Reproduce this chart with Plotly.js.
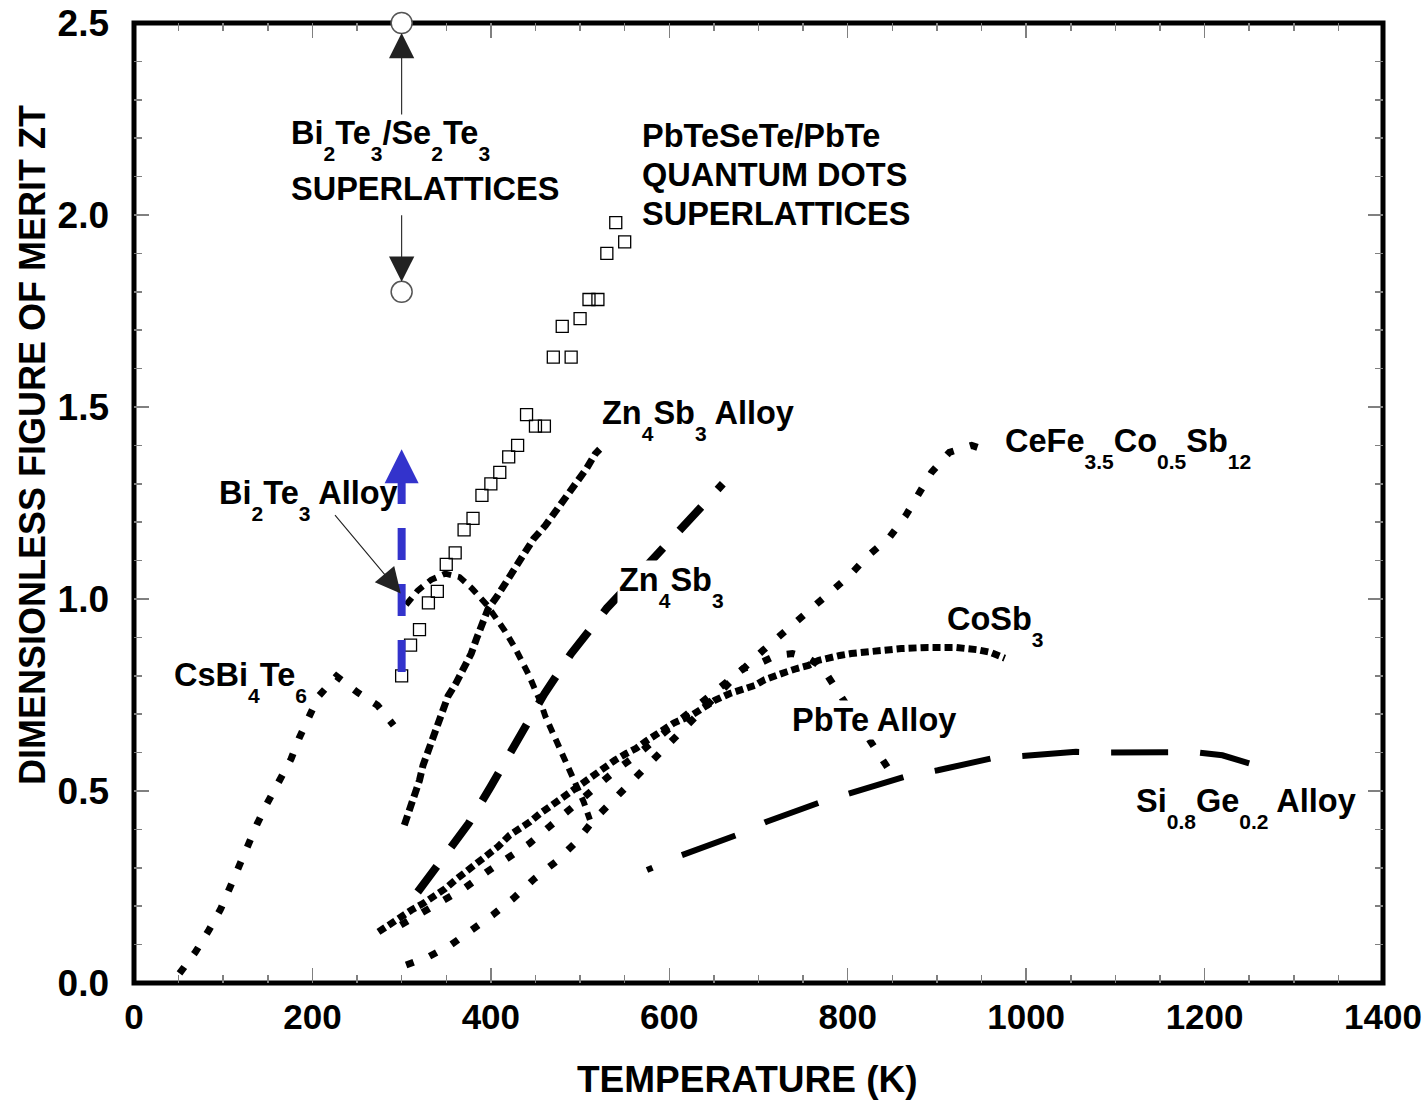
<!DOCTYPE html>
<html>
<head>
<meta charset="utf-8">
<script src="https://cdn.plot.ly/plotly-3.0.1.min.js"></script>
<style>
  html, body { margin: 0; padding: 0; background: #ffffff; }
  #chart { width: 1425px; height: 1100px; }
</style>
</head>
<body>
<div id="chart"></div>
<script>
// ---- Figure of merit ZT versus temperature (K) ----

const csBi4Te6T  = [51, 69, 84, 97, 107, 117, 127, 138, 149, 162, 176, 185, 195, 207, 227, 251, 273, 291];
const csBi4Te6ZT = [0.025, 0.081, 0.138, 0.192, 0.246, 0.304, 0.361, 0.414, 0.467, 0.525, 0.583, 0.637, 0.690, 0.747, 0.799, 0.756, 0.723, 0.671];

const bi2te3AlloyT  = [305, 318, 333, 349, 365, 379, 395, 406, 416, 427, 435, 442, 449, 455, 461, 469, 477, 483, 491, 497, 504, 511];
const bi2te3AlloyZT = [0.985, 1.022, 1.050, 1.066, 1.057, 1.027, 0.986, 0.950, 0.916, 0.873, 0.839, 0.805, 0.767, 0.736, 0.695, 0.654, 0.615, 0.580, 0.541, 0.511, 0.472, 0.425];

const zn4sb3AlloyT  = [303, 309, 314, 320, 324, 329, 334, 340, 345, 352, 361, 369, 378, 384, 390, 397, 407, 417, 429, 439, 448, 461, 472, 483, 496, 507, 517, 522];
const zn4sb3AlloyZT = [0.411, 0.450, 0.485, 0.528, 0.567, 0.599, 0.637, 0.674, 0.706, 0.747, 0.781, 0.816, 0.858, 0.897, 0.931, 0.975, 1.007, 1.044, 1.083, 1.118, 1.157, 1.191, 1.226, 1.261, 1.300, 1.339, 1.378, 1.390];

const zn4sb3T  = [318, 345, 375, 400, 430, 460, 490, 530, 560, 590, 620, 660];
const zn4sb3ZT = [0.237, 0.318, 0.415, 0.512, 0.635, 0.753, 0.858, 0.976, 1.050, 1.125, 1.193, 1.300];

const qdSuperlatticeT  = [300, 310, 320, 330, 340, 350, 360, 370, 380, 390, 400, 410, 420, 430, 440, 450, 460, 470, 480, 490, 500, 510, 520, 530, 540, 550];
const qdSuperlatticeZT = [0.80, 0.88, 0.92, 0.99, 1.02, 1.09, 1.12, 1.18, 1.21, 1.27, 1.30, 1.33, 1.37, 1.40, 1.48, 1.45, 1.45, 1.63, 1.71, 1.63, 1.73, 1.78, 1.78, 1.90, 1.98, 1.93];

const bi2te3SuperlatticeT  = [300, 300];
const bi2te3SuperlatticeZT = [2.5, 1.8];

const ceFeCoSbT  = [305, 330, 355, 377, 402, 425, 449, 474, 496, 515, 537, 562, 583, 603, 630, 655, 680, 705, 730, 752, 776, 802, 823, 847, 865, 880, 894, 914, 939, 963];
const ceFeCoSbZT = [0.047, 0.068, 0.099, 0.133, 0.177, 0.220, 0.272, 0.318, 0.368, 0.424, 0.476, 0.537, 0.589, 0.636, 0.697, 0.755, 0.812, 0.866, 0.916, 0.962, 1.011, 1.061, 1.113, 1.161, 1.217, 1.274, 1.330, 1.382, 1.400, 1.381];

const coSb3T  = [274, 299, 311, 324, 337, 349, 360, 371, 382, 395, 408, 421, 433, 444, 455, 468, 479, 491, 502, 515, 527, 539, 552, 563, 574, 586, 605, 625, 638, 651, 668, 683, 696, 707, 718, 731, 743, 756, 767, 778, 791, 804, 830, 860, 890, 920, 945, 960, 976];
const coSb3ZT = [0.133, 0.174, 0.190, 0.207, 0.226, 0.246, 0.268, 0.287, 0.307, 0.333, 0.355, 0.385, 0.402, 0.420, 0.441, 0.463, 0.483, 0.502, 0.521, 0.541, 0.563, 0.580, 0.598, 0.611, 0.630, 0.650, 0.677, 0.697, 0.715, 0.736, 0.754, 0.767, 0.775, 0.790, 0.801, 0.810, 0.819, 0.827, 0.840, 0.847, 0.853, 0.858, 0.866, 0.871, 0.874, 0.874, 0.868, 0.861, 0.846];

const pbTeAlloyT  = [299, 324, 346, 371, 396, 418, 443, 466, 492, 515, 539, 563, 586, 610, 634, 657, 683, 696, 720, 738, 754, 771, 790, 810, 830, 845, 855];
const pbTeAlloyZT = [0.151, 0.185, 0.219, 0.248, 0.290, 0.324, 0.363, 0.408, 0.459, 0.507, 0.552, 0.593, 0.637, 0.684, 0.728, 0.775, 0.819, 0.827, 0.853, 0.858, 0.848, 0.823, 0.755, 0.680, 0.606, 0.560, 0.528];

const siGeAlloyT  = [575, 614, 675, 709, 771, 804, 864, 901, 961, 995, 1056, 1092, 1153, 1190, 1220, 1250];
const siGeAlloyZT = [0.294, 0.333, 0.385, 0.420, 0.472, 0.495, 0.537, 0.554, 0.585, 0.591, 0.602, 0.600, 0.600, 0.601, 0.593, 0.572];

// Improvement arrow for Bi2Te3 alloy at room temperature
const blueArrowT     = [300, 300];
const blueArrowZT    = [0.81, 1.31];
const blueArrowTipT  = [300];
const blueArrowTipZT = [1.39];

// ---- styling ----
const FONT = 'Liberation Sans, Arial, Helvetica, sans-serif';
const INK = '#000000';
const BLUE = '#3333cc';
const TICK_GREY = '#808080';

function sub(s) {
  return '<span style="font-size:21px;baseline-shift:-17px">' + s + '</span>';
}

function curve(x, y, dash, width) {
  return {
    type: 'scatter', mode: 'lines', x: x, y: y,
    line: { color: INK, width: width, dash: dash },
    hoverinfo: 'skip', showlegend: false
  };
}

const longDash = '6px,32px' + ',57px,32px'.repeat(10);

const traces = [
  curve(csBi4Te6T, csBi4Te6ZT, '8px,16px', 7),
  curve(bi2te3AlloyT, bi2te3AlloyZT, '9px,7px', 6),
  curve(zn4sb3AlloyT, zn4sb3AlloyZT, '10px,5px', 7),
  curve(zn4sb3T, zn4sb3ZT, '32px,24px', 8),
  curve(ceFeCoSbT, ceFeCoSbZT, '8px,17px', 7),
  curve(pbTeAlloyT, pbTeAlloyZT, '8px,17px', 7),
  curve(coSb3T, coSb3ZT, '8px,4px', 7),
  curve(siGeAlloyT, siGeAlloyZT, longDash, 6),
  {
    type: 'scatter', mode: 'markers', x: qdSuperlatticeT, y: qdSuperlatticeZT,
    marker: { symbol: 'square-open', size: 12, color: INK, line: { width: 1.3, color: INK } },
    hoverinfo: 'skip', showlegend: false
  },
  {
    type: 'scatter', mode: 'lines', x: blueArrowT, y: blueArrowZT,
    line: { color: BLUE, width: 8, dash: '32px,24px' },
    hoverinfo: 'skip', showlegend: false
  },
  {
    type: 'scatter', mode: 'markers', x: blueArrowTipT, y: blueArrowTipZT,
    marker: { symbol: 'arrow-up', size: 34, color: BLUE, line: { width: 0 } },
    hoverinfo: 'skip', showlegend: false
  },
  {
    type: 'scatter', mode: 'markers', x: bi2te3SuperlatticeT, y: bi2te3SuperlatticeZT,
    cliponaxis: false,
    marker: { symbol: 'circle', size: 21, color: '#ffffff', line: { width: 1.5, color: '#555555' } },
    hoverinfo: 'skip', showlegend: false
  }
];

function label(text, x, y, extra) {
  return Object.assign({
    text: text, x: x, y: y, xref: 'x', yref: 'y',
    xanchor: 'left', yanchor: 'top', align: 'left', showarrow: false,
    font: { family: FONT, size: 32.5, color: INK, weight: 700 }
  }, extra || {});
}

function pointer(x, y, ax, ay, standoff) {
  return {
    text: '', x: x, y: y, xref: 'x', yref: 'y', ax: ax, ay: ay,
    showarrow: true, arrowhead: 2, arrowsize: 4.6, arrowwidth: 1.1,
    arrowcolor: '#222222', standoff: standoff
  };
}

const annotations = [
  label('Bi' + sub('2') + 'Te' + sub('3') + '/Se' + sub('2') + 'Te' + sub('3'), 174, 2.266),
  label('SUPERLATTICES', 174, 2.121),
  label('PbTeSeTe/PbTe', 567, 2.259),
  label('QUANTUM DOTS', 567, 2.157),
  label('SUPERLATTICES', 567, 2.056),
  label('Zn' + sub('4') + 'Sb' + sub('3') + ' Alloy', 522.2, 1.537),
  label('CeFe' + sub('3.5') + 'Co' + sub('0.5') + 'Sb' + sub('12'), 973.6, 1.464),
  label('Bi' + sub('2') + 'Te' + sub('3') + ' Alloy', 93.1, 1.329),
  label('Zn' + sub('4') + 'Sb' + sub('3'), 541.3, 1.102, { bgcolor: '#ffffff' }),
  label('CoSb' + sub('3'), 908.8, 1.000),
  label('CsBi' + sub('4') + 'Te' + sub('6'), 42.6, 0.853),
  label('PbTe Alloy', 735.2, 0.737, { bgcolor: '#ffffff' }),
  label('Si' + sub('0.8') + 'Ge' + sub('0.2') + ' Alloy', 1120.6, 0.527),
  pointer(300, 2.5, 0, 93, 10),
  pointer(300, 1.8, 0, -78, 10),
  pointer(299, 1.014, -67, -80, 0),
  {
    text: 'TEMPERATURE (K)', xref: 'paper', yref: 'paper', x: 0.4912, y: -0.101,
    xanchor: 'center', yanchor: 'middle', showarrow: false,
    font: { family: FONT, size: 37, color: INK, weight: 700 }
  },
  {
    text: 'DIMENSIONLESS FIGURE OF MERIT ZT', xref: 'paper', yref: 'paper', x: -0.0817, y: 0.5604,
    xanchor: 'center', yanchor: 'middle', textangle: -90, showarrow: false,
    font: { family: FONT, size: 36, color: INK, weight: 700 }
  }
];

const layout = {
  width: 1425, height: 1100,
  margin: { l: 134, r: 42, t: 23, b: 117 },
  paper_bgcolor: '#ffffff', plot_bgcolor: '#ffffff',
  font: { family: FONT, color: INK, weight: 700 },
  showlegend: false,
  hovermode: false,
  xaxis: {
    range: [0, 1400], dtick: 200, tick0: 0,
    showgrid: false, zeroline: false, showline: false,
    ticks: 'inside', ticklen: 15, tickwidth: 1.5, tickcolor: TICK_GREY,
    mirror: 'allticks', layer: 'below traces',
    minor: { dtick: 50, ticks: 'inside', ticklen: 8, tickwidth: 1.5, tickcolor: TICK_GREY, showgrid: false },
    tickfont: { family: FONT, size: 35, color: INK, weight: 700 }, ticklabelstandoff: 10
  },
  yaxis: {
    range: [0, 2.5], dtick: 0.5, tick0: 0, tickformat: '.1f',
    showgrid: false, zeroline: false, showline: false,
    ticks: 'inside', ticklen: 15, tickwidth: 1.5, tickcolor: TICK_GREY,
    mirror: 'allticks', layer: 'below traces',
    minor: { dtick: 0.1, ticks: 'inside', ticklen: 8, tickwidth: 1.5, tickcolor: TICK_GREY, showgrid: false },
    tickfont: { family: FONT, size: 37, color: INK, weight: 700 }, ticklabelstandoff: 24
  },
  shapes: [{
    type: 'rect', xref: 'paper', yref: 'paper', x0: 0, x1: 1, y0: 0, y1: 1,
    line: { color: INK, width: 5 }, fillcolor: 'rgba(0,0,0,0)', layer: 'below'
  }],
  annotations: annotations
};

Plotly.newPlot('chart', traces, layout, { staticPlot: true, displayModeBar: false });
</script>
</body>
</html>
